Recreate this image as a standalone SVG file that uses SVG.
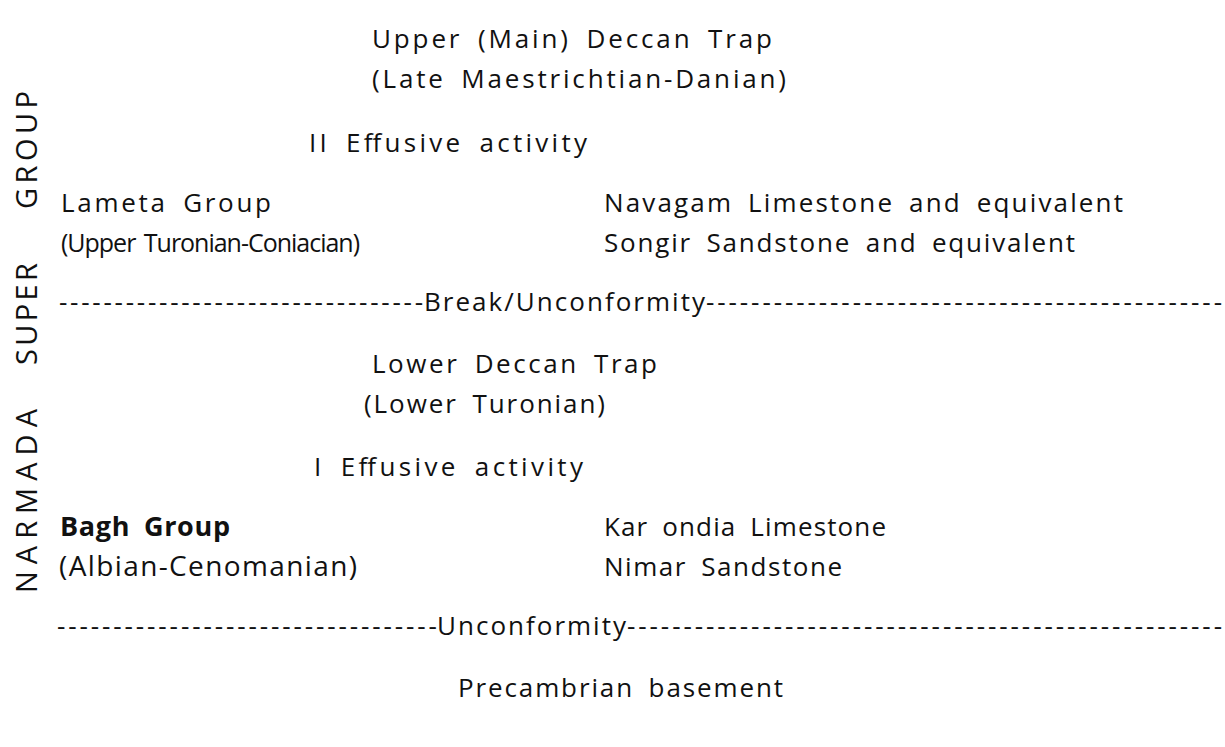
<svg xmlns="http://www.w3.org/2000/svg" width="1225" height="747" viewBox="0 0 1225 747">
<style>
text{font-family:"Open Sans","Noto Sans","DejaVu Sans",sans-serif;font-size:26px;fill:#111;word-spacing:6px;}
.b{font-weight:bold;}
.v{font-size:29px;word-spacing:0;}
</style>
<rect width="1225" height="747" fill="#fff"/>
<g id="side-label" transform="translate(37,593) rotate(-90)">
<text class="v" x="0" y="0" textLength="184" lengthAdjust="spacing">NARMADA</text>
<text class="v" x="228" y="0" textLength="102" lengthAdjust="spacing">SUPER</text>
<text class="v" x="384" y="0" textLength="118" lengthAdjust="spacing">GROUP</text>
</g>
<g id="upper-trap">
<text x="372" y="48" textLength="400" lengthAdjust="spacing">Upper (Main) Deccan Trap</text>
<text x="372" y="88" textLength="414" lengthAdjust="spacing">(Late Maestrichtian-Danian)</text>
</g>
<g id="effusive-2"><text x="309" y="152" textLength="278" lengthAdjust="spacing">II Effusive activity</text></g>
<g id="lameta">
<text x="61" y="212" textLength="210" lengthAdjust="spacing">Lameta Group</text>
<text x="61" y="252" style="font-size:25px;word-spacing:3px" textLength="299" lengthAdjust="spacing">(Upper Turonian-Coniacian)</text>
</g>
<g id="navagam">
<text x="604" y="212" textLength="519" lengthAdjust="spacing">Navagam Limestone and equivalent</text>
<text x="604" y="252" textLength="471" lengthAdjust="spacing">Songir Sandstone and equivalent</text>
</g>
<g id="break">
<text x="59" y="311" textLength="364" lengthAdjust="spacing">---------------------------------</text>
<text x="424" y="311" textLength="281" lengthAdjust="spacing">Break/Unconformity</text>
<text x="706" y="311" textLength="516" lengthAdjust="spacing">----------------------------------------------</text>
</g>
<g id="lower-trap">
<text x="372" y="373" textLength="285" lengthAdjust="spacing">Lower Deccan Trap</text>
<text x="364" y="413" textLength="241" lengthAdjust="spacing">(Lower Turonian)</text>
</g>
<g id="effusive-1"><text x="314" y="476" textLength="269" lengthAdjust="spacing">I Effusive activity</text></g>
<g id="bagh">
<text class="b" x="60" y="536" style="font-size:27px" textLength="170" lengthAdjust="spacing">Bagh Group</text>
<text x="59" y="576" style="font-size:28px" textLength="298" lengthAdjust="spacing">(Albian-Cenomanian)</text>
</g>
<g id="karondia">
<text x="604" y="536" textLength="282" lengthAdjust="spacing">Kar ondia Limestone</text>
<text x="604" y="576" textLength="238" lengthAdjust="spacing">Nimar Sandstone</text>
</g>
<g id="unconformity">
<text x="57" y="635" textLength="380" lengthAdjust="spacing">----------------------------------</text>
<text x="437" y="635" textLength="189" lengthAdjust="spacing">Unconformity</text>
<text x="627" y="635" textLength="595" lengthAdjust="spacing">-----------------------------------------------------</text>
</g>
<g id="precambrian"><text x="458" y="697" textLength="325" lengthAdjust="spacing">Precambrian basement</text></g>
<g id="connectors"></g>
</svg>
